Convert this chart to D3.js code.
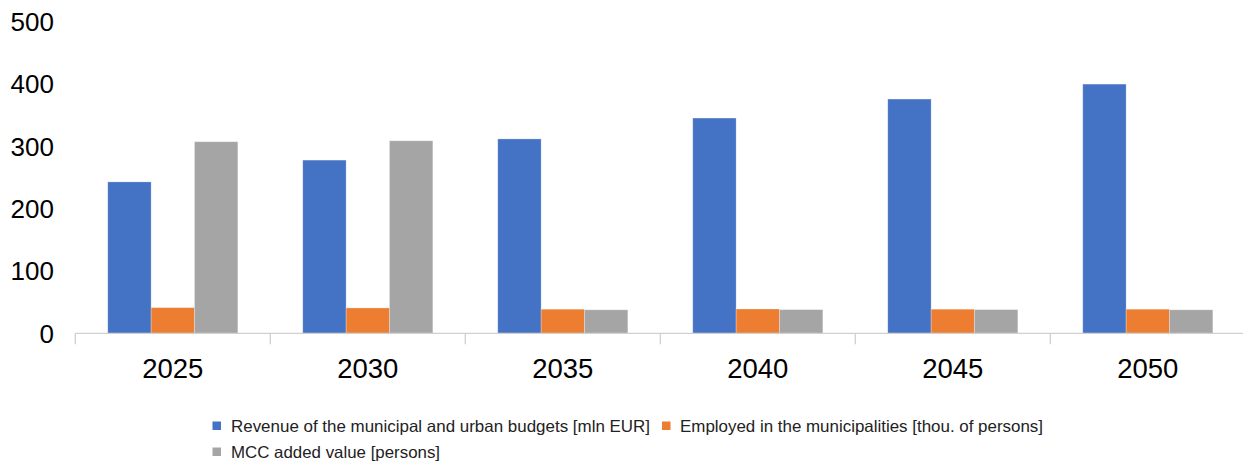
<!DOCTYPE html>
<html>
<head>
<meta charset="utf-8">
<script src="https://cdn.jsdelivr.net/npm/d3@7"></script>
<style>
  html, body { margin: 0; padding: 0; background: #fff; }
  svg { display: block; }
  text { font-family: "Liberation Sans", Arial, sans-serif; }
</style>
</head>
<body>
<svg id="chart" width="1243" height="465"></svg>
<script>
// Categories (years)
const years = ["2025", "2030", "2035", "2040", "2045", "2050"];

// Series values
const revenue  = [243, 278, 312, 345.5, 376, 400];
const employed = [41.2, 40.7, 38.7, 39, 38.7, 38.7];
const mccValue = [307.5, 309, 37.7, 38, 38, 37.7];

// Series names and y-axis ticks
const seriesNames = [
  "Revenue of the municipal and urban budgets [mln EUR]",
  "Employed in the municipalities [thou. of persons]",
  "MCC added value [persons]"
];
const yTicks = [0, 100, 200, 300, 400, 500];

const colors = ["#4472C4", "#ED7D31", "#A5A5A5"];
const seriesValues = [revenue, employed, mccValue];

const svg = d3.select("#chart");

const x0 = d3.scaleBand().domain(years).range([75.3, 1245.3]).paddingInner(0).paddingOuter(0);
const step = x0.bandwidth();
const gap = step * 0.333;
const x1 = d3.scaleBand().domain(d3.range(seriesNames.length)).range([gap / 2, step - gap / 2]).padding(0);
const y = d3.scaleLinear().domain([0, 500]).range([333.3, 21.8]);

// Y tick labels (no axis line, no grid)
svg.append("g")
  .selectAll("text")
  .data(yTicks)
  .join("text")
  .attr("x", 54)
  .attr("y", d => y(d))
  .attr("dy", "0.355em")
  .attr("text-anchor", "end")
  .attr("font-size", 26)
  .attr("fill", "#000")
  .text(d => d);

// Bars
const groups = svg.append("g")
  .selectAll("g")
  .data(years)
  .join("g")
  .attr("transform", d => `translate(${x0(d)},0)`);

groups.selectAll("rect")
  .data((d, i) => seriesValues.map((vals, s) => ({ s, v: vals[i] })))
  .join("rect")
  .attr("x", d => x1(d.s))
  .attr("width", x1.bandwidth())
  .attr("y", d => y(d.v))
  .attr("height", d => y(0) - y(d.v))
  .attr("fill", d => colors[d.s])
  .attr("stroke", "#ffffff")
  .attr("stroke-opacity", 0.35)
  .attr("stroke-width", 0.75);

// Category axis
const xAxis = svg.append("g");
xAxis.append("line")
  .attr("x1", x0.range()[0]).attr("x2", x0.range()[1])
  .attr("y1", y(0)).attr("y2", y(0))
  .attr("stroke", "#d0d0d0").attr("stroke-width", 1.3);

const boundaries = years.map(d => x0(d)).concat([x0.range()[1]]);
xAxis.selectAll("line.tick")
  .data(boundaries)
  .join("line")
  .attr("class", "tick")
  .attr("x1", d => d).attr("x2", d => d)
  .attr("y1", y(0)).attr("y2", y(0) + 11)
  .attr("stroke", "#d0d0d0").attr("stroke-width", 1.3);

xAxis.selectAll("text")
  .data(years)
  .join("text")
  .attr("x", d => x0(d) + step / 2)
  .attr("y", 378.3)
  .attr("text-anchor", "middle")
  .attr("font-size", 27.5)
  .attr("fill", "#000")
  .text(d => d);

// Legend
const legendItems = [
  { i: 0, mx: 212.5, tx: 231, ty: 432, w: 419 },
  { i: 1, mx: 662, tx: 680, ty: 432, w: 363 },
  { i: 2, mx: 212.5, tx: 231, ty: 458, w: 209 }
];
const legend = svg.append("g");
legend.selectAll("rect")
  .data(legendItems)
  .join("rect")
  .attr("x", d => d.mx)
  .attr("y", d => d.ty - 10.5)
  .attr("width", 8.5)
  .attr("height", 8.5)
  .attr("fill", d => colors[d.i]);
legend.selectAll("text")
  .data(legendItems)
  .join("text")
  .attr("x", d => d.tx)
  .attr("y", d => d.ty)
  .attr("font-size", 16.5)
  .attr("fill", "#222")
  .attr("textLength", d => d.w)
  .attr("lengthAdjust", "spacingAndGlyphs")
  .text(d => seriesNames[d.i]);
</script>
</body>
</html>
